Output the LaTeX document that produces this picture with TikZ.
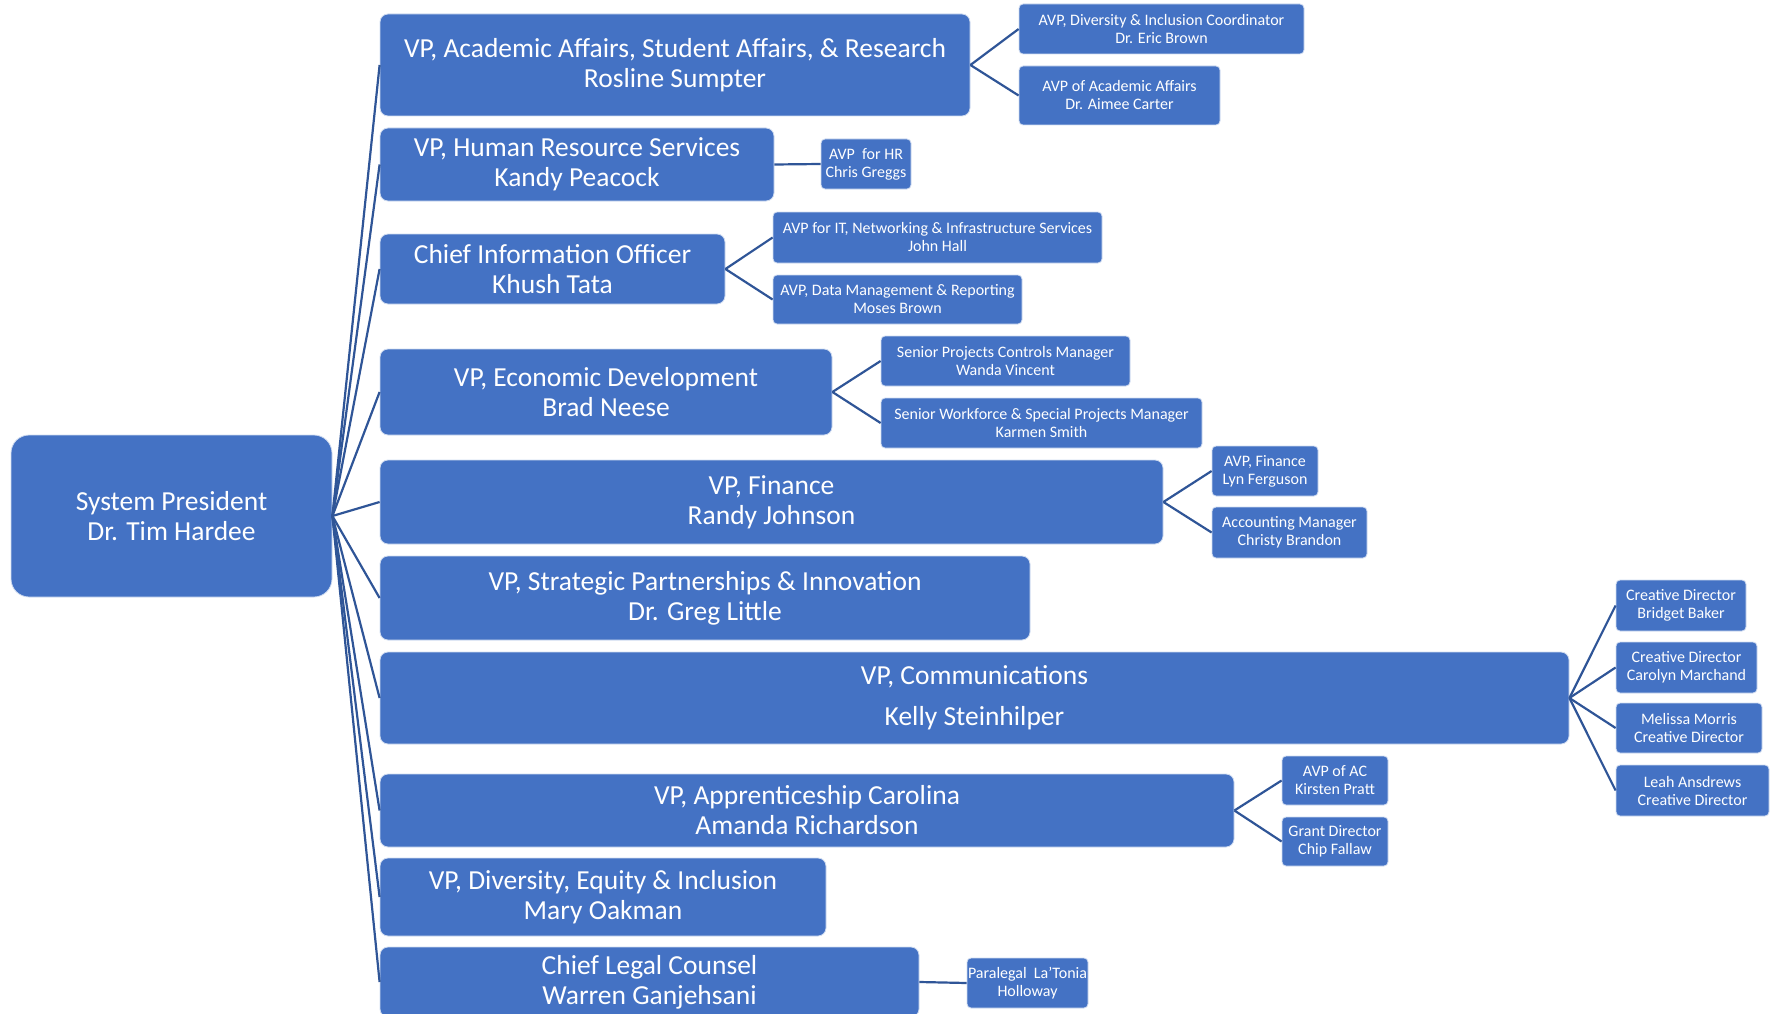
\documentclass[tikz,border=0pt]{standalone}
\usepackage{fontspec}
\setmainfont{Carlito}
\definecolor{boxblue}{HTML}{4472C4}
\definecolor{linkblue}{HTML}{2F5597}
\tikzset{
 base/.style={fill=boxblue, draw=white!75!boxblue, line width=0.8pt, text=white, align=center, inner sep=0pt},
 pres/.style={base, rounded corners=18pt, font=\fontsize{27.5}{30}\selectfont},
 vp/.style={base, rounded corners=8pt, font=\fontsize{27.5}{30}\selectfont},
 sub/.style={base, rounded corners=4pt, font=\fontsize{16}{18}\selectfont},
 link/.style={draw=linkblue, line width=2.2pt},
}
\begin{document}
\begin{tikzpicture}[x=1pt,y=-1pt]
\useasboundingbox (0,0) rectangle (1773,1014);
\clip (0,0) rectangle (1773,1014);
% president
\node[pres, minimum width=321pt, minimum height=162pt] (pres) at (171.5,516) {System President\\Dr. Tim Hardee};
% VPs
\node[vp, minimum width=590pt, minimum height=102pt] (v1) at (675,65) {VP, Academic Affairs, Student Affairs, \& Research\\Rosline Sumpter};
\node[vp, minimum width=394pt, minimum height=73pt] (v2) at (577,164.5) {VP, Human Resource Services\\Kandy Peacock};
\node[vp, minimum width=345pt, minimum height=70pt] (v3) at (552.5,269) {Chief Information Officer\\Khush Tata};
\node[vp, minimum width=452pt, minimum height=86pt] (v4) at (606,392) {VP, Economic Development\\Brad Neese};
\node[vp, minimum width=783pt, minimum height=84pt] (v5) at (771.5,502) {VP, Finance\\Randy Johnson};
\node[vp, minimum width=650pt, minimum height=84pt] (v6) at (705,598) {VP, Strategic Partnerships \& Innovation\\Dr. Greg Little};
\node[vp, minimum width=1189pt, minimum height=92pt] (v7) at (974.5,698) {VP, Communications\\[11pt]Kelly Steinhilper};
\node[vp, minimum width=854pt, minimum height=73pt] (v8) at (807,810.5) {VP, Apprenticeship Carolina\\Amanda Richardson};
\node[vp, minimum width=446pt, minimum height=78pt] (v9) at (603,897) {VP, Diversity, Equity \& Inclusion\\Mary Oakman};
\node[vp, minimum width=539pt, minimum height=70pt] (v10) at (649.5,982) {Chief Legal Counsel\\Warren Ganjehsani};
% sub boxes
\node[sub, minimum width=285pt, minimum height=50pt] (a1) at (1161.5,29) {AVP, Diversity \& Inclusion Coordinator\\Dr. Eric Brown};
\node[sub, minimum width=201pt, minimum height=59pt] (a2) at (1119.5,95.5) {AVP of Academic Affairs\\Dr. Aimee Carter};
\node[sub, minimum width=90pt, minimum height=50pt] (h1) at (866,164) {AVP\ \ for HR\\Chris Greggs};
\node[sub, minimum width=329pt, minimum height=51pt] (c1) at (937.5,237.5) {AVP for IT, Networking \& Infrastructure Services\\John Hall};
\node[sub, minimum width=249pt, minimum height=49pt] (c2) at (897.5,299.5) {AVP, Data Management \& Reporting\\Moses Brown};
\node[sub, minimum width=249pt, minimum height=50pt] (e1) at (1005.5,361) {Senior Projects Controls Manager\\Wanda Vincent};
\node[sub, minimum width=321pt, minimum height=50pt] (e2) at (1041.5,423) {Senior Workforce \& Special Projects Manager\\Karmen Smith};
\node[sub, minimum width=106pt, minimum height=50pt] (f1) at (1265,471) {AVP, Finance\\Lyn Ferguson};
\node[sub, minimum width=155pt, minimum height=51pt] (f2) at (1289.5,532.5) {Accounting Manager\\Christy Brandon};
\node[sub, minimum width=130pt, minimum height=51pt] (m1) at (1681,605.5) {Creative Director\\Bridget Baker};
\node[sub, minimum width=141pt, minimum height=51pt] (m2) at (1686.5,667.5) {Creative Director\\Carolyn Marchand};
\node[sub, minimum width=146pt, minimum height=50pt] (m3) at (1689,728) {Melissa Morris\\Creative Director};
\node[sub, minimum width=153pt, minimum height=51pt] (m4) at (1692.5,790.5) {Leah Ansdrews\\Creative Director};
\node[sub, minimum width=106pt, minimum height=49pt] (p1) at (1335,780.5) {AVP of AC\\Kirsten Pratt};
\node[sub, minimum width=106pt, minimum height=49pt] (p2) at (1335,841.5) {Grant Director\\Chip Fallaw};
\node[sub, minimum width=121pt, minimum height=50pt] (l1) at (1027.5,983) {Paralegal\ \ La'Tonia\\Holloway};
% connectors from president
\foreach \v in {v1,v2,v3,v4,v5,v6,v7,v8,v9,v10}
  \draw[link] (pres.east) -- (\v.west);
% connectors to sub boxes
\draw[link] (v1.east) -- (a1.west);
\draw[link] (v1.east) -- (a2.west);
\draw[link] (v2.east) -- (h1.west);
\draw[link] (v3.east) -- (c1.west);
\draw[link] (v3.east) -- (c2.west);
\draw[link] (v4.east) -- (e1.west);
\draw[link] (v4.east) -- (e2.west);
\draw[link] (v5.east) -- (f1.west);
\draw[link] (v5.east) -- (f2.west);
\draw[link] (v7.east) -- (m1.west);
\draw[link] (v7.east) -- (m2.west);
\draw[link] (v7.east) -- (m3.west);
\draw[link] (v7.east) -- (m4.west);
\draw[link] (v8.east) -- (p1.west);
\draw[link] (v8.east) -- (p2.west);
\draw[link] (v10.east) -- (l1.west);
\end{tikzpicture}
\end{document}
